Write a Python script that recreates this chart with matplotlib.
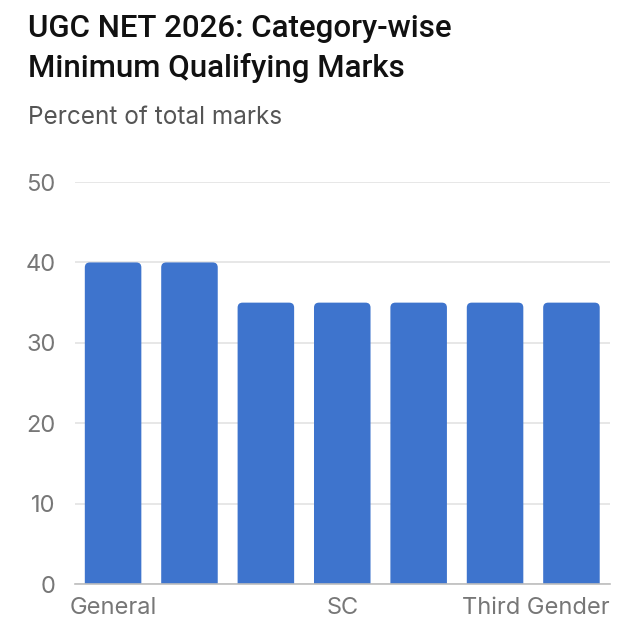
import matplotlib
matplotlib.use("Agg")
import matplotlib.pyplot as plt
from matplotlib.patches import FancyBboxPatch

# chart data
categories = ["General", "EWS", "OBC-NCL", "SC", "ST", "PwD", "Third Gender"]
marks = [40, 40, 35, 35, 35, 35, 35]
shown_labels = ["General", "SC"]  # last one is drawn flush right
y_ticks = [0, 10, 20, 30, 40, 50]

plt.rcParams["font.family"] = ["Inter", "DejaVu Sans"]

BAR_COLOR = "#3e74cd"
TICK_COLOR = "#777777"
TICK_SIZE = 17

fig = plt.figure(figsize=(6.24, 6.33), dpi=100)
ax = fig.add_axes([0.120, 0.0774, 0.857, 0.635])

x = list(range(len(categories)))
bars = ax.bar(x, marks, width=0.74, color=BAR_COLOR, zorder=3)

# swap plain bars for ones with slightly rounded tops
px_x = 0.857 * 624 / len(categories)   # pixels per x unit
px_y = 0.635 * 633 / 50                # pixels per y unit
for b in bars:
    b.set_visible(False)
    patch = FancyBboxPatch((b.get_x(), -3), b.get_width(), b.get_height() + 3,
                           boxstyle="round,pad=0,rounding_size=%f" % (5 / px_x),
                           mutation_aspect=px_x / px_y,
                           facecolor=BAR_COLOR, edgecolor="none", zorder=3)
    ax.add_patch(patch)

ax.set_xlim(-0.5, len(categories) - 0.5)
ax.set_ylim(0, 50)
ax.set_yticks(y_ticks)
ax.set_yticklabels([str(v) for v in y_ticks])
ax.set_xticks(x)
ax.set_xticklabels([c if c in shown_labels else "" for c in categories])
ax.text(1.0, -0.033, categories[-1], transform=ax.transAxes, ha="right", va="top",
        fontsize=TICK_SIZE, color=TICK_COLOR)

ax.tick_params(axis="both", length=0, labelsize=TICK_SIZE, colors=TICK_COLOR)
ax.tick_params(axis="y", pad=14)
ax.tick_params(axis="x", pad=9)

ax.grid(axis="y", color="#e3e3e3", linewidth=1.2, zorder=0)
for side in ["top", "right", "left"]:
    ax.spines[side].set_visible(False)
ax.spines["bottom"].set_color("#bdbdbd")
ax.spines["bottom"].set_linewidth(1.2)
ax.spines["bottom"].set_zorder(4)

title_font = dict(family=["Roboto", "DejaVu Sans"], fontsize=22.5,
                  fontweight="medium", color="#111111")
fig.text(0.045, 0.955, "UGC NET 2026: Category-wise", ha="left", va="center",
         **title_font)
fig.text(0.045, 0.892, "Minimum Qualifying Marks", ha="left", va="center",
         **title_font)
fig.text(0.045, 0.8136, "Percent of total marks", ha="left", va="center",
         fontsize=17.5, color="#555555")

fig.savefig("out.png", dpi=100)
